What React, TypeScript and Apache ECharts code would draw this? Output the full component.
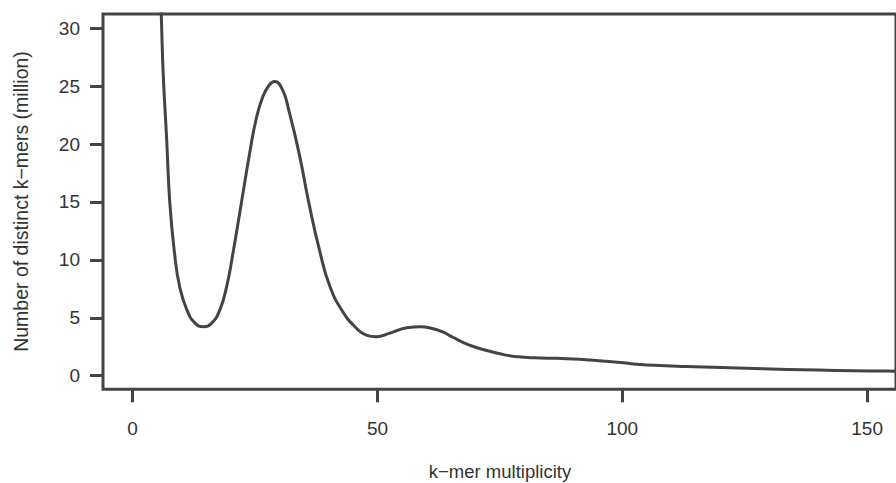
import React, { useEffect, useRef } from "react";
import * as echarts from "echarts";

const multiplicity: number[] = [
  5.5, 5.9, 6.25, 6.93, 7.6, 8.55, 9.6, 11.1, 12.8, 14.46, 16.1, 17.8, 19.2, 20.5, 22.2,
  23.9, 25.2, 26.6, 27.9, 29.0, 30.6, 31.9, 34.0, 36.0, 38.3, 40.3, 42.7, 45.4, 47.7,
  49.8, 52.4, 56, 58.8, 61, 63.2, 65.5, 67.9, 70.5, 73.3, 76, 78.7, 82, 86.7, 90, 93.4,
  96.7, 100.2, 103, 106.5, 113, 120.2, 127, 133.7, 140, 147.1, 153.8, 156,
];
const distinctKmers: number[] = [
  36, 30.5, 26, 20.6, 14.9, 10.6, 7.7, 5.67, 4.52, 4.23, 4.52, 5.67, 7.7, 10.6, 14.9,
  19.2, 22.1, 24.1, 25.1, 25.4, 24.7, 22.9, 19.2, 14.9, 10.6, 7.7, 5.67, 4.23, 3.51,
  3.37, 3.66, 4.15, 4.23, 4.1, 3.8, 3.3, 2.8, 2.4, 2.07, 1.8, 1.64, 1.55, 1.5, 1.45, 1.36,
  1.25, 1.12, 1.0, 0.9, 0.8, 0.72, 0.63, 0.55, 0.49, 0.43, 0.4, 0.39,
];
const xTicks: number[] = [0, 50, 100, 150];
const yTicks: number[] = [0, 5, 10, 15, 20, 25, 30];
const xTitle = "k\u2212mer multiplicity";
const yTitle = "Number of distinct k\u2212mers (million)";

const FONT = "'Liberation Sans', Arial, Helvetica, sans-serif";
const INK = "#444444";
const TEXT = "#333333";

export default function App() {
  const ref = useRef<HTMLDivElement>(null);
  useEffect(() => {
    document.body.style.margin = "0";
    const chart = echarts.init(ref.current!, null, { renderer: "svg" });
    const data = multiplicity.map((x, i) => [x, distinctKmers[i]]);
    chart.setOption({
      animation: false,
      backgroundColor: "#ffffff",
      textStyle: { fontFamily: FONT },
      grid: {
        show: true,
        left: 103,
        top: 14,
        width: 803,
        height: 375.3,
        borderColor: INK,
        borderWidth: 3,
        backgroundColor: "transparent",
      },
      xAxis: {
        type: "value",
        min: -6.05,
        max: 155.9,
        axisLine: { show: false, onZero: false },
        splitLine: { show: false },
        axisTick: {
          show: true,
          length: 13,
          customValues: xTicks,
          lineStyle: { color: INK, width: 3 },
        },
        axisLabel: {
          customValues: xTicks,
          margin: 30,
          fontSize: 19,
          color: TEXT,
          fontFamily: FONT,
        },
      },
      yAxis: {
        type: "value",
        min: -1.17,
        max: 31.23,
        axisLine: { show: false, onZero: false },
        splitLine: { show: false },
        axisTick: {
          show: true,
          length: 13,
          customValues: yTicks,
          lineStyle: { color: INK, width: 3 },
        },
        axisLabel: {
          customValues: yTicks,
          margin: 23,
          fontSize: 19,
          color: TEXT,
          fontFamily: FONT,
        },
      },
      graphic: [
        {
          type: "text",
          x: 500,
          y: 471,
          style: {
            text: xTitle,
            fill: TEXT,
            font: `18.5px ${FONT}`,
            textAlign: "center",
            textVerticalAlign: "middle",
          },
        },
        {
          type: "text",
          x: 20.5,
          y: 201.5,
          rotation: Math.PI / 2,
          style: {
            text: yTitle,
            fill: TEXT,
            font: `19.5px ${FONT}`,
            textAlign: "center",
            textVerticalAlign: "middle",
          },
        },
      ],
      series: [
        {
          type: "line",
          data,
          showSymbol: false,
          smooth: 0.5,
          clip: true,
          lineStyle: { color: INK, width: 3, join: "round", cap: "round" },
        },
      ],
    });
    return () => chart.dispose();
  }, []);
  return <div ref={ref} style={{ width: 896, height: 483 }} />;
}
